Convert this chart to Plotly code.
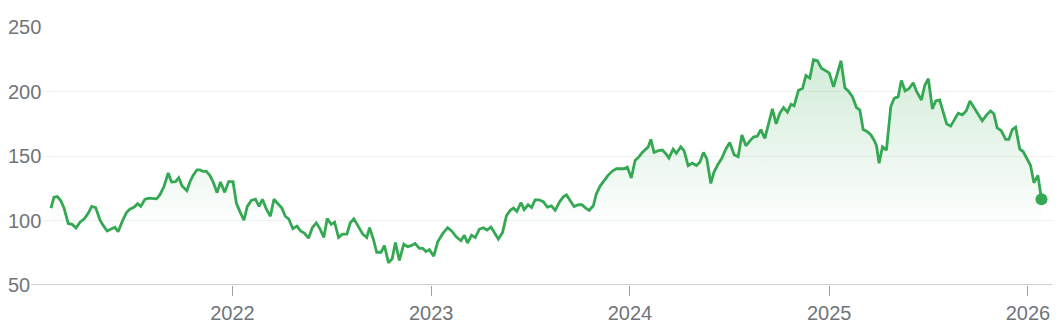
import pandas as pd
import plotly.graph_objects as go

# decimal-year positions of the weekly closes
years = [
    2021.087, 2021.102, 2021.119, 2021.136, 2021.153, 2021.174, 2021.194, 2021.213, 2021.233, 2021.255,
    2021.275, 2021.292, 2021.312, 2021.334, 2021.350, 2021.370, 2021.392, 2021.409, 2021.425, 2021.448,
    2021.468, 2021.484, 2021.506, 2021.523, 2021.539, 2021.560, 2021.581, 2021.601, 2021.618, 2021.635,
    2021.655, 2021.677, 2021.694, 2021.714, 2021.730, 2021.747, 2021.771, 2021.786, 2021.802, 2021.822,
    2021.836, 2021.852, 2021.869, 2021.886, 2021.903, 2021.923, 2021.940, 2021.961, 2021.981, 2022.003,
    2022.020, 2022.037, 2022.058, 2022.075, 2022.095, 2022.116, 2022.134, 2022.151, 2022.171, 2022.191,
    2022.209, 2022.229, 2022.249, 2022.266, 2022.283, 2022.304, 2022.325, 2022.343, 2022.363, 2022.383,
    2022.402, 2022.422, 2022.442, 2022.460, 2022.477, 2022.497, 2022.514, 2022.534, 2022.553, 2022.576,
    2022.593, 2022.611, 2022.634, 2022.656, 2022.676, 2022.690, 2022.710, 2022.726, 2022.748, 2022.765,
    2022.785, 2022.804, 2022.820, 2022.840, 2022.862, 2022.882, 2022.899, 2022.919, 2022.941, 2022.957,
    2022.974, 2022.991, 2023.013, 2023.033, 2023.058, 2023.083, 2023.103, 2023.125, 2023.150, 2023.167,
    2023.183, 2023.203, 2023.222, 2023.242, 2023.262, 2023.281, 2023.301, 2023.317, 2023.338, 2023.359,
    2023.379, 2023.398, 2023.414, 2023.431, 2023.452, 2023.468, 2023.488, 2023.505, 2023.523, 2023.543,
    2023.564, 2023.585, 2023.605, 2023.624, 2023.647, 2023.666, 2023.681, 2023.699, 2023.719, 2023.741,
    2023.758, 2023.778, 2023.795, 2023.816, 2023.831, 2023.850, 2023.870, 2023.890, 2023.912, 2023.932,
    2023.954, 2023.970, 2023.987, 2024.007, 2024.026, 2024.046, 2024.062, 2024.079, 2024.092, 2024.105,
    2024.121, 2024.143, 2024.163, 2024.179, 2024.196, 2024.217, 2024.233, 2024.255, 2024.272, 2024.292,
    2024.313, 2024.334, 2024.351, 2024.369, 2024.386, 2024.406, 2024.422, 2024.443, 2024.461, 2024.481,
    2024.501, 2024.523, 2024.543, 2024.562, 2024.582, 2024.602, 2024.620, 2024.640, 2024.657, 2024.677,
    2024.695, 2024.715, 2024.734, 2024.752, 2024.771, 2024.791, 2024.808, 2024.824, 2024.846, 2024.866,
    2024.883, 2024.903, 2024.921, 2024.941, 2024.961, 2024.980, 2025.000, 2025.022, 2025.042, 2025.059,
    2025.079, 2025.097, 2025.117, 2025.137, 2025.154, 2025.171, 2025.192, 2025.210, 2025.226, 2025.238,
    2025.251, 2025.268, 2025.288, 2025.310, 2025.327, 2025.347, 2025.363, 2025.382, 2025.402, 2025.423,
    2025.439, 2025.452, 2025.464, 2025.481, 2025.499, 2025.519, 2025.536, 2025.556, 2025.574, 2025.591,
    2025.611, 2025.631, 2025.649, 2025.670, 2025.690, 2025.708, 2025.728, 2025.748, 2025.770, 2025.792,
    2025.812, 2025.829, 2025.845, 2025.865, 2025.888, 2025.904, 2025.921, 2025.938, 2025.959, 2025.976,
    2025.996, 2026.013, 2026.030, 2026.050, 2026.068,
]

prices = [
    109.6, 118.0, 118.5, 115.5, 109.6, 97.7, 97.0, 94.2, 98.7, 101.3,
    105.8, 110.9, 109.9, 100.2, 96.2, 91.9, 93.6, 94.7, 91.3, 100.2,
    106.3, 108.8, 110.4, 113.0, 110.9, 116.5, 117.3, 117.3, 116.8, 119.8,
    126.1, 136.8, 129.9, 130.2, 133.2, 126.7, 123.1, 129.9, 135.0, 139.3,
    139.3, 138.1, 138.1, 135.0, 129.9, 121.6, 129.9, 121.8, 130.2, 130.2,
    113.5, 107.1, 100.2, 110.9, 115.5, 116.5, 110.9, 116.5, 108.8, 103.3,
    116.5, 113.0, 109.6, 103.3, 101.3, 93.6, 95.7, 91.9, 90.1, 86.3,
    94.4, 98.2, 93.1, 86.8, 101.5, 97.0, 98.7, 86.8, 89.4, 89.4,
    98.2, 101.3, 95.7, 89.4, 86.8, 94.4, 85.0, 75.4, 75.4, 80.5,
    67.3, 70.3, 83.0, 69.0, 81.7, 79.7, 80.5, 82.2, 78.4, 78.4,
    75.9, 77.4, 72.3, 83.5, 89.8, 94.4, 91.9, 87.5, 84.3, 88.6,
    82.5, 88.6, 86.8, 93.2, 94.4, 92.6, 94.9, 91.1, 85.6, 90.6,
    103.8, 107.9, 109.6, 107.1, 113.9, 108.4, 112.2, 110.1, 116.0, 116.0,
    114.7, 110.4, 111.4, 107.9, 114.7, 118.5, 119.8, 115.5, 110.9, 112.2,
    112.2, 109.6, 107.9, 111.4, 120.6, 126.7, 131.2, 135.0, 138.3, 140.1,
    140.1, 140.1, 141.4, 133.0, 146.5, 149.5, 152.8, 155.3, 157.1, 162.9,
    152.8, 154.1, 154.6, 152.0, 148.5, 155.3, 152.0, 157.1, 154.1, 142.6,
    144.4, 142.6, 145.1, 152.8, 147.7, 128.7, 137.6, 143.9, 148.2, 155.3,
    160.4, 151.0, 149.5, 166.3, 157.9, 161.7, 164.7, 165.5, 170.5, 163.7,
    174.9, 186.5, 174.9, 183.2, 187.6, 184.0, 190.1, 189.0, 201.0, 202.3,
    212.4, 210.4, 224.6, 223.8, 218.0, 216.2, 214.4, 203.6, 213.7, 223.8,
    202.8, 200.2, 196.0, 187.6, 185.7, 170.5, 168.8, 166.3, 162.2, 157.9,
    144.4, 157.1, 154.6, 188.3, 194.7, 196.0, 208.6, 200.5, 202.3, 206.8,
    200.2, 196.0, 193.4, 204.8, 209.9, 186.5, 192.6, 193.4, 183.2, 174.9,
    173.1, 178.1, 183.2, 181.9, 185.0, 192.6, 187.6, 183.2, 177.3, 181.9,
    185.0, 182.5, 171.8, 169.8, 162.9, 162.9, 170.5, 172.3, 155.3, 153.5,
    147.7, 142.6, 129.2, 135.0, 116.5,
]

y_ticks = [50, 100, 150, 200, 250]
y_tick_labels = ["50", "100", "150", "200", "250"]
x_tick_years = [2022, 2023, 2024, 2025, 2026]
x_tick_labels = ["2022", "2023", "2024", "2025", "2026"]


def to_date(y):
    yr = int(y)
    start = pd.Timestamp(yr, 1, 1)
    span = (pd.Timestamp(yr + 1, 1, 1) - start).days
    return start + pd.Timedelta(days=(y - yr) * span)


dates = [to_date(y) for y in years]

GREEN = "#34a853"
GREY_TXT = "#70757a"
FONT = "Arial, Liberation Sans, sans-serif"
FS = 20

W, H = 1062, 334
L, R, T, B = 43, 10, 27, 44
plot_w = W - L - R

fig = go.Figure()
fig.add_trace(go.Scatter(
    x=dates, y=prices, mode="lines",
    line=dict(color=GREEN, width=2.8),
    fill="tozeroy",
    fillgradient=dict(
        type="vertical",
        colorscale=[[0, "rgba(52,168,83,0)"], [1, "rgba(52,168,83,0.22)"]],
        start=95, stop=225,
    ),
    hoverinfo="skip",
))
fig.add_trace(go.Scatter(
    x=[dates[-1]], y=[prices[-1]], mode="markers",
    marker=dict(color=GREEN, size=12),
    hoverinfo="skip", cliponaxis=False,
))

x_range = [to_date(2021.047), to_date(2026.121)]

fig.update_layout(
    width=W, height=H,
    margin=dict(l=L, r=R, t=T, b=B, pad=0),
    paper_bgcolor="white", plot_bgcolor="white",
    showlegend=False,
    font=dict(family=FONT, size=FS, color=GREY_TXT),
    xaxis=dict(
        type="date", range=x_range,
        tickvals=[pd.Timestamp(y, 1, 1) for y in x_tick_years],
        ticktext=x_tick_labels,
        ticks="outside", ticklen=10, tickwidth=1, tickcolor="#9aa0a6",
        showgrid=False, showline=False, zeroline=False,
        tickfont=dict(family=FONT, size=FS, color=GREY_TXT),
    ),
    yaxis=dict(
        range=[50, 250], tickvals=y_ticks, showticklabels=False,
        showgrid=True, gridcolor="#f1f1f1", gridwidth=1,
        zeroline=False, showline=False,
    ),
    shapes=[dict(
        type="line", xref="paper", yref="y",
        x0=(31 - L) / plot_w, x1=1.0, y0=50, y1=50,
        line=dict(color="#9aa0a6", width=1.2),
        layer="above",
    )],
    annotations=[
        dict(xref="paper", yref="y", x=(6 - L) / plot_w, y=v, text=t,
             xanchor="left", yanchor="middle", showarrow=False,
             font=dict(family=FONT, size=FS, color=GREY_TXT))
        for v, t in zip(y_ticks, y_tick_labels)
    ],
)

fig.write_html("out.html")
